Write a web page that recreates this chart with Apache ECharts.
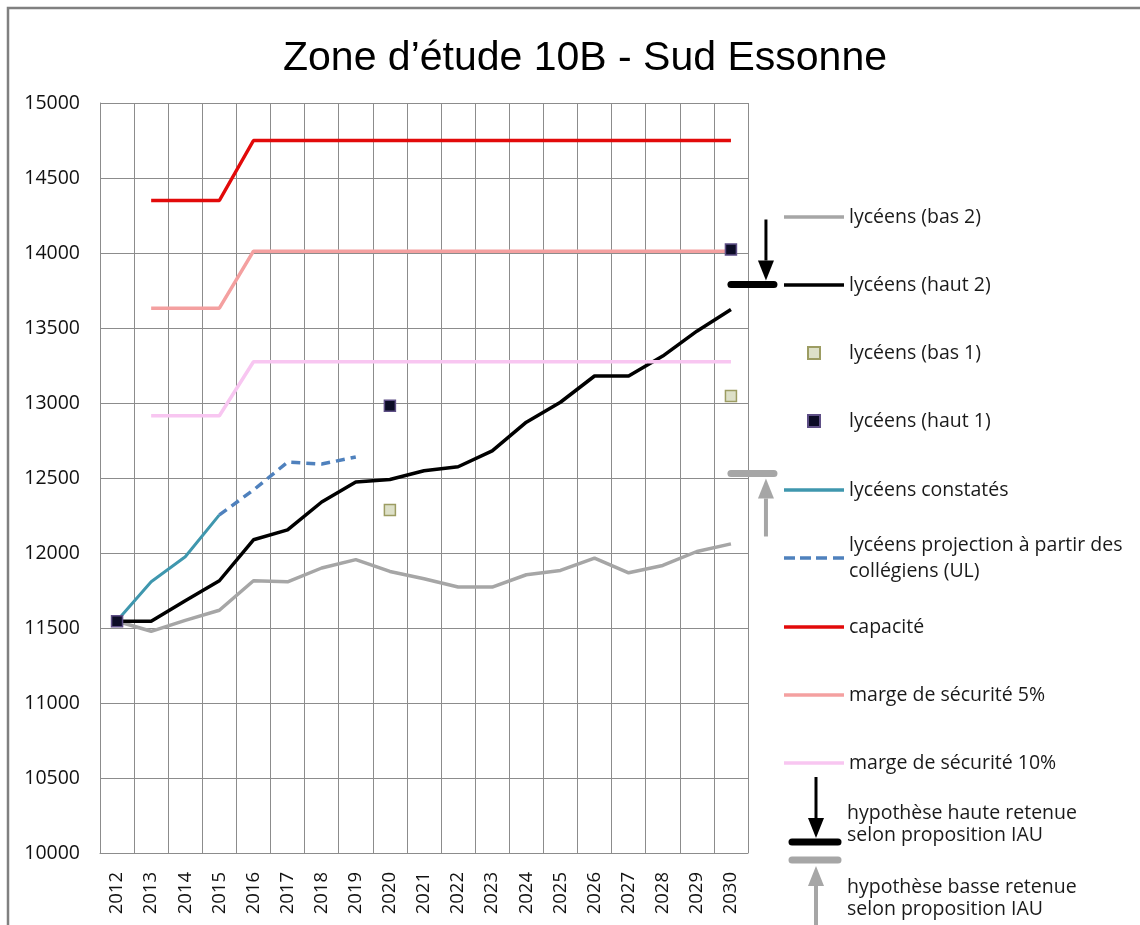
<!DOCTYPE html>
<html>
<head>
<meta charset="utf-8">
<script src="https://cdn.jsdelivr.net/npm/echarts@6/dist/echarts.min.js"></script>
<style>
html, body { margin: 0; padding: 0; background: #fff; }
#chart { width: 1140px; height: 925px; }
</style>
</head>
<body>
<div id="chart"></div>
<script>
// données
var years = ['2012', '2013', '2014', '2015', '2016', '2017', '2018', '2019', '2020', '2021',
    '2022', '2023', '2024', '2025', '2026', '2027', '2028', '2029', '2030'];
var yTicks = [10000, 15000, 500];

var bas2 = [11545, 11478, 11551, 11618, 11815, 11808, 11900, 11956, 11877, 11828,
    11773, 11773, 11855, 11884, 11966, 11868, 11917, 12010, 12061];
var haut2 = [11545, 11545, 11682, 11815, 12088, 12154, 12340, 12473, 12490, 12548,
    12575, 12681, 12872, 13005, 13180, 13180, 13313, 13479, 13624];
var bas1 = [null, null, null, null, null, null, null, null, 12287, null,
    null, null, null, null, null, null, null, null, 13047];
var haut1 = [11545, null, null, null, null, null, null, null, 12981, null,
    null, null, null, null, null, null, null, null, 14023];
var constates = [11549, 11808, 11975, 12254];
var projection = [null, null, null, 12254, 12420, 12606, 12593, 12640];
var capacite = [null, 14350, 14350, 14350, 14750, 14750, 14750, 14750, 14750, 14750,
    14750, 14750, 14750, 14750, 14750, 14750, 14750, 14750, 14750];
var marge5 = [null, 13632, 13632, 13632, 14012, 14012, 14012, 14012, 14012, 14012,
    14012, 14012, 14012, 14012, 14012, 14012, 14012, 14012, 14012];
var marge10 = [null, 12915, 12915, 12915, 13275, 13275, 13275, 13275, 13275, 13275,
    13275, 13275, 13275, 13275, 13275, 13275, 13275, 13275, 13275];
// hypothèses retenues (IAU)
var hypHaute = 13790;
var hypBasse = 12530;

var FONT = '"Open Sans", sans-serif';

var myChart = echarts.init(document.getElementById('chart'));

function ligne(name, data, color, width, dash) {
    return {
        name: name,
        type: 'line',
        data: data,
        symbol: 'none',
        connectNulls: false,
        lineStyle: { color: color, width: width, type: dash || 'solid', cap: 'butt' },
        itemStyle: { color: color },
        emphasis: { disabled: true },
        z: 3
    };
}

function points(name, data, fill, border) {
    return {
        name: name,
        type: 'scatter',
        data: data,
        symbol: 'rect',
        symbolSize: 11,
        itemStyle: { color: fill, borderColor: border, borderWidth: 1.5, opacity: 1 },
        emphasis: { disabled: true },
        z: 5
    };
}

var legendText = { fontFamily: FONT, fontSize: 19.5, color: '#1a1a1a', lineHeight: 20 };

// légendes : une par bloc, pour garder l'espacement de l'original
function legendeLignes(top, names) {
    return {
        orient: 'vertical', left: 784, top: top, padding: 0,
        itemWidth: 60, itemHeight: 3.5, itemGap: 48, selectedMode: false,
        icon: 'rect',
        textStyle: legendText,
        data: names
    };
}

option = {
    animation: false,
    backgroundColor: '#fff',
    title: {
        text: 'Zone d\u2019étude 10B - Sud Essonne',
        left: 580,
        top: 33,
        textAlign: 'center',
        textStyle: { fontFamily: '"Liberation Sans", Arial, sans-serif', fontSize: 41, fontWeight: 'normal', color: '#000' }
    },
    grid: { left: 100, top: 103, width: 648, height: 750, outerBoundsMode: 'none', containLabel: false },
    legend: [
        legendeLignes(207, ['lycéens (bas 2)', 'lycéens (haut 2)']),
        {
            orient: 'vertical', left: 807, top: 343, padding: 0,
            itemWidth: 12, itemHeight: 12, itemGap: 48, selectedMode: false,
            textStyle: { fontFamily: FONT, fontSize: 19.5, color: '#1a1a1a', lineHeight: 20, padding: [0, 0, 0, 24] },
            data: ['lycéens (bas 1)', 'lycéens (haut 1)']
        },
        legendeLignes(480, ['lycéens constatés']),
        {
            orient: 'vertical', left: 784, top: 519, padding: 0,
            itemWidth: 60, itemHeight: 3.5, selectedMode: false,
            icon: 'path://M0,0h11v3.5h-11zM16,0h11v3.5h-11zM32,0h11v3.5h-11zM49,0h11v3.5h-11z',
            formatter: function () { return 'lycéens projection à partir des\ncollégiens (UL)'; },
            textStyle: { fontFamily: FONT, fontSize: 19.5, color: '#1a1a1a', lineHeight: 26, padding: [26, 0, 0, 0] },
            data: ['lycéens projection']
        },
        legendeLignes(617, ['capacité', 'marge de sécurité 5%', 'marge de sécurité 10%'])
    ],
    xAxis: {
        type: 'category',
        data: years,
        boundaryGap: true,
        axisLine: { lineStyle: { color: '#8c8c8c', width: 1 } },
        axisTick: { show: false },
        axisLabel: { rotate: 90, margin: 19, fontFamily: FONT, fontSize: 18.5, color: '#111' },
        splitLine: { show: true, lineStyle: { color: '#8c8c8c', width: 1 } }
    },
    yAxis: {
        type: 'value',
        min: yTicks[0],
        max: yTicks[1],
        interval: yTicks[2],
        axisLine: { show: true, lineStyle: { color: '#8c8c8c', width: 1 } },
        axisTick: { show: false },
        axisLabel: {
            margin: 20, fontFamily: FONT, fontSize: 19.5, color: '#111',
            formatter: function (v) { return String(v); }
        },
        splitLine: { show: true, lineStyle: { color: '#8c8c8c', width: 1 } }
    },
    series: [
        ligne('lycéens (bas 2)', bas2, '#a6a6a6', 3.5),
        ligne('lycéens (haut 2)', haut2, '#000000', 3.5),
        points('lycéens (bas 1)', bas1, '#dde0c8', '#9c9c62'),
        points('lycéens (haut 1)', haut1, '#0c0c26', '#5e4f86'),
        ligne('lycéens constatés', constates, '#3f97ae', 3),
        ligne('lycéens projection', projection, '#4f81bd', 3.5, [9, 6]),
        ligne('capacité', capacite, '#e20a0a', 3.5),
        ligne('marge de sécurité 5%', marge5, '#f4a0a0', 3.5),
        ligne('marge de sécurité 10%', marge10, '#f8c6f1', 3.5)
    ]
};

myChart.setOption(option);

// flèches et barres des hypothèses IAU
function fleche(x, yFrom, yTo, color, lw, head) {
    var dir = yTo > yFrom ? 1 : -1;
    var yBase = yTo - dir * head;
    return [{
        type: 'line', z: 50,
        shape: { x1: x, y1: yFrom, x2: x, y2: yBase },
        style: { stroke: color, lineWidth: lw }
    }, {
        type: 'polygon', z: 50,
        shape: { points: [[x - 8, yBase], [x + 8, yBase], [x, yTo]] },
        style: { fill: color }
    }];
}
function barre(x1, x2, y, color) {
    return {
        type: 'line', z: 50,
        shape: { x1: x1, y1: y, x2: x2, y2: y },
        style: { stroke: color, lineWidth: 7, lineCap: 'round' }
    };
}

var x2030 = myChart.convertToPixel({ xAxisIndex: 0 }, '2030');
var yH = myChart.convertToPixel({ yAxisIndex: 0 }, hypHaute);
var yB = myChart.convertToPixel({ yAxisIndex: 0 }, hypBasse);

var g = [{
    type: 'rect', z: 0, silent: true,
    shape: { x: 8, y: 8, width: 1160, height: 960 },
    style: { fill: null, stroke: '#808080', lineWidth: 2.5 }
}];
g.push(barre(x2030, x2030 + 43, yH, '#000'));
g = g.concat(fleche(x2030 + 35, yH - 65, yH - 4, '#000', 3, 20));
g.push(barre(x2030, x2030 + 43, yB, '#a6a6a6'));
g = g.concat(fleche(x2030 + 35, yB + 63, yB + 5, '#a6a6a6', 4, 20));

// légende des hypothèses
g = g.concat(fleche(816, 777, 838, '#000', 3, 20));
g.push(barre(792, 838, 842, '#000'));
g.push(barre(792, 838, 860, '#a6a6a6'));
g = g.concat(fleche(816, 930, 866, '#a6a6a6', 4, 20));
g.push({
    type: 'text', z: 50, left: 847, top: 802,
    style: { text: 'hypothèse haute retenue\nselon proposition IAU', font: '19.5px ' + FONT, fill: '#1a1a1a', lineHeight: 22 }
});
g.push({
    type: 'text', z: 50, left: 847, top: 876,
    style: { text: 'hypothèse basse retenue\nselon proposition IAU', font: '19.5px ' + FONT, fill: '#1a1a1a', lineHeight: 22 }
});

myChart.setOption({ graphic: g });
</script>
</body>
</html>
